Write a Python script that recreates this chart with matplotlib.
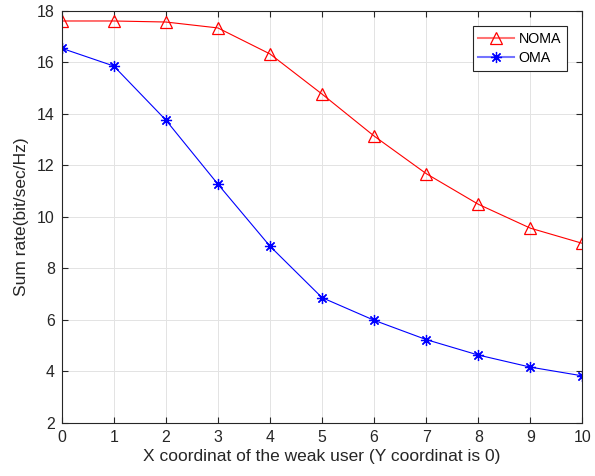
import matplotlib
matplotlib.use('Agg')
import matplotlib.pyplot as plt
from matplotlib.colors import to_rgba

# x position of the weak user
x_coord = [0, 1, 2, 3, 4, 5, 6, 7, 8, 9, 10]
noma_rate = [17.61, 17.61, 17.57, 17.34, 16.33, 14.77, 13.14, 11.68, 10.49, 9.56, 8.97]
oma_rate = [16.55, 15.86, 13.76, 11.27, 8.86, 6.86, 5.98, 5.23, 4.63, 4.16, 3.82]

plt.rcParams['font.family'] = ['Liberation Sans', 'DejaVu Sans']
plt.rcParams['font.size'] = 11.4

fig = plt.figure(figsize=(5.95, 4.76), dpi=100)
ax = fig.add_axes([0.1037, 0.112, 0.8750, 0.865])

ax.plot(x_coord, noma_rate, color='#ff0000', lw=0.8, marker='^',
        markersize=8, markerfacecolor='none', markeredgecolor='#ff0000',
        markeredgewidth=0.9, label='NOMA')
ax.plot(x_coord, oma_rate, color='#0000ff', lw=0.8, marker=(8, 2, 0),
        markersize=8, markeredgecolor='#0000ff', markeredgewidth=0.9,
        label='OMA')

ax.set_xlim(0, 10)
ax.set_ylim(2, 18)
ax.set_xticks(range(0, 11))
ax.set_yticks(range(2, 19, 2))

dark = '#262626'
ax.grid(True, color='#e3e3e3', lw=0.7)
ax.set_axisbelow(True)
for sp in ax.spines.values():
    sp.set_color(dark)
    sp.set_linewidth(0.8)
ax.tick_params(direction='in', top=True, right=True, length=4,
               colors=dark, labelsize=11.4, pad=5)

ax.set_xlabel('X coordinat of the weak user (Y coordinat is 0)', color=dark,
              fontsize=12.5, labelpad=3)
ax.set_ylabel('Sum rate(bit/sec/Hz)', color=dark, fontsize=12.5, labelpad=6)

leg = ax.legend(loc='upper right', bbox_to_anchor=(0.970, 0.963),
                borderaxespad=0, fancybox=False, framealpha=1,
                edgecolor=dark, fontsize=10.3, handlelength=2.5,
                borderpad=0.4, labelspacing=0.35, handletextpad=0.3)
leg.get_frame().set_linewidth(0.8)
# matlab draws the legend lines a bit paler and wider, markers stay solid
for ln in leg.get_lines():
    ln.set_color(to_rgba(ln.get_markeredgecolor(), 0.55))
    ln.set_linewidth(1.5)

fig.savefig('out.png', dpi=100)
